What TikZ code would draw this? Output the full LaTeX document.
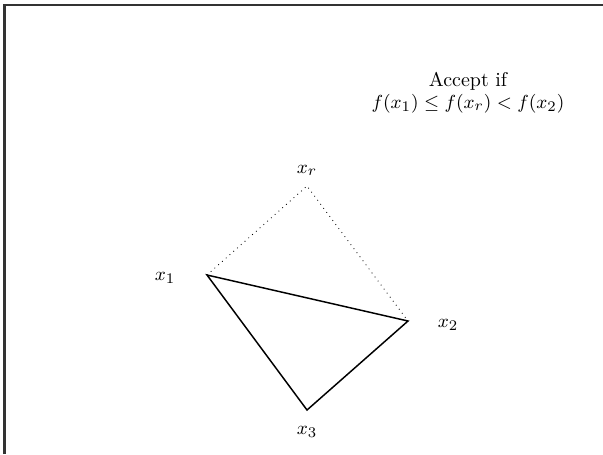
\documentclass[tikz,border=0pt]{standalone}
\begin{document}
\begin{tikzpicture}[x=0.476pt,y=-0.476pt,
  every node/.style={font=\fontsize{9.5}{10.5}\selectfont},
  lbl/.style={inner sep=0pt},
  edge/.style={line width=0.7pt},
  refl/.style={dotted, thin}]
\useasboundingbox (0,0) rectangle (603,454);
\draw[line width=1.1pt, black!80] (4.5,454) -- (4.5,5) -- (603,5);
\coordinate (p1) at (207,275);
\coordinate (p2) at (408,321);
\coordinate (p3) at (307,410);
\coordinate (pr) at (307,186);
\draw[edge] (p1) -- (p2) -- (p3) -- cycle;
\draw[refl] (p1) -- (pr) -- (p2);
\node[lbl] (l1) at (165,278) {$x_1$};
\node[lbl] (l2) at (448,325) {$x_2$};
\node[lbl] (l3) at (307,432) {$x_3$};
\node[lbl] (lr) at (307,170) {$x_r$};
\node[lbl, align=center] (acc) at (468,93) {Accept if\\$f(x_1)\le f(x_r)<f(x_2)$};
\end{tikzpicture}
\end{document}
